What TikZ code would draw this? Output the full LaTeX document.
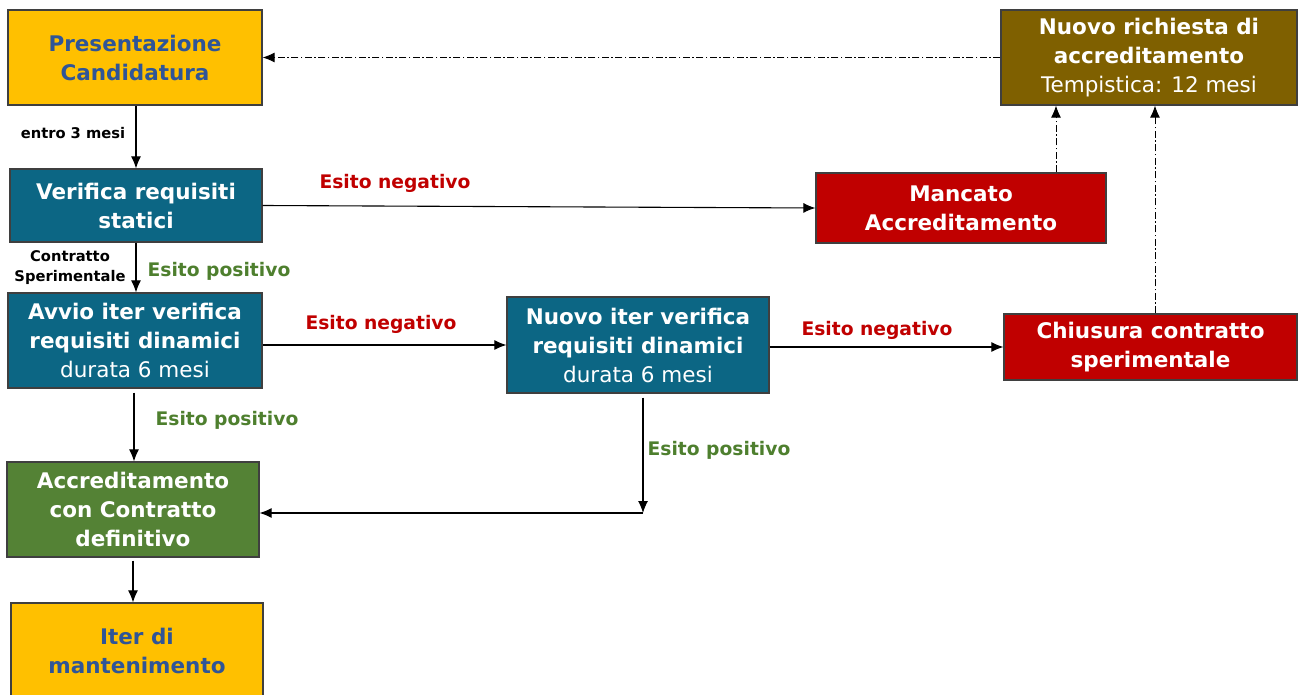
\documentclass[tikz,border=0pt]{standalone}
\usepackage{fontspec}
\setmainfont{DejaVu Sans}
\usetikzlibrary{arrows.meta}
\definecolor{candyellow}{HTML}{FFC000}
\definecolor{candblue}{HTML}{2F5597}
\definecolor{verteal}{HTML}{0C6684}
\definecolor{accgreen}{HTML}{548235}
\definecolor{failred}{HTML}{C00000}
\definecolor{newbrown}{HTML}{7F6000}
\definecolor{boxgray}{HTML}{3F3F3F}
\definecolor{posgreen}{HTML}{4E7F2E}
\tikzstyle{block} = [rectangle, draw=boxgray, line width=1.2pt, text=white,
    align=center, inner sep=0pt, font=\bfseries\fontsize{21.5}{29}\selectfont]
\tikzstyle{lab} = [inner sep=0pt, align=center, font=\bfseries\fontsize{18.7}{20}\selectfont]
\tikzstyle{small} = [inner sep=0pt, align=center, font=\bfseries\fontsize{14.7}{20}\selectfont]
\tikzstyle{line} = [draw, line width=1.1pt, -{Latex[length=12pt,width=10pt]}]
\tikzstyle{dashline} = [line, line width=0.9pt, dash pattern=on 7pt off 2.5pt on 1.5pt off 2.5pt]

\begin{document}
\begin{tikzpicture}[x=1pt, y=-1pt]
  \useasboundingbox (0,0) rectangle (1298,695);
   % Place nodes
    \node [block, fill=candyellow, text=candblue, minimum width=254pt, minimum height=95pt] (pres) at (135,57.5) {Presentazione\\Candidatura};
    \node [block, fill=verteal, minimum width=252pt, minimum height=73pt] (stat) at (136,205.5) {Verifica requisiti\\statici};
    \node [block, fill=verteal, minimum width=254pt, minimum height=95pt] (avvio) at (135,340.5) {Avvio iter verifica\\requisiti dinamici\\{\mdseries durata 6 mesi}};
    \node [block, fill=accgreen, minimum width=252pt, minimum height=95pt] (accr) at (133,509.5) {Accreditamento\\con Contratto\\definitivo};
    \node [block, fill=candyellow, text=candblue, minimum width=252pt, minimum height=95pt] (mant) at (137,650.5) {Iter di\\mantenimento};
    \node [block, fill=verteal, minimum width=262pt, minimum height=96pt] (nuovoiter) at (638,345) {Nuovo iter verifica\\requisiti dinamici\\{\mdseries durata 6 mesi}};
    \node [block, fill=failred, minimum width=290pt, minimum height=70pt] (mancato) at (961,208) {Mancato\\Accreditamento};
    \node [block, fill=failred, minimum width=293pt, minimum height=66pt] (chiusura) at (1150.5,347) {Chiusura contratto\\sperimentale};
    \node [block, fill=newbrown, minimum width=296pt, minimum height=95pt] (richiesta) at (1149,57.5) {Nuovo richiesta di\\accreditamento\\{\mdseries Tempistica: 12 mesi}};
    \coordinate (join) at (643,513);
   % Labels
    \node [small] (entro) at (73,133) {entro 3 mesi};
    \node [small] (contratto) at (70,268) {Contratto\\Sperimentale};
    \node [lab, text=posgreen] (pos1) at (219,271) {Esito positivo};
    \node [lab, text=posgreen] (pos2) at (227,420) {Esito positivo};
    \node [lab, text=posgreen] (pos3) at (719,450) {Esito positivo};
    \node [lab, text=failred] (neg1) at (395,183) {Esito negativo};
    \node [lab, text=failred] (neg2) at (381,324) {Esito negativo};
    \node [lab, text=failred] (neg3) at (877,330) {Esito negativo};
   % Draw edges
    \path [line] (pres.south -| stat.north) -- (stat.north);
    \path [line] (stat.south) -- (stat.south |- avvio.north);
    \path [line] (stat.east) -- (mancato.west);
    \path [line] (avvio.east |- nuovoiter.west) -- (nuovoiter.west);
    \path [line] (nuovoiter.east |- chiusura.west) -- (chiusura.west);
    \path [line, shorten <=4pt] (avvio.south -| 134,0) -- (accr.north -| 134,0);
    \path [line, shorten <=4pt] (nuovoiter.south -| join) -- (join);
    \path [line] (join) -- (join -| accr.east);
    \path [line, shorten <=3pt] (accr.south) -- (accr.south |- mant.north);
    \path [dashline] (richiesta.west |- pres.east) -- (pres.east);
    \path [dashline] (mancato.north -| 1056,0) -- (richiesta.south -| 1056,0);
    \path [dashline] (chiusura.north -| 1155,0) -- (richiesta.south -| 1155,0);
  \end{tikzpicture}
\end{document}
